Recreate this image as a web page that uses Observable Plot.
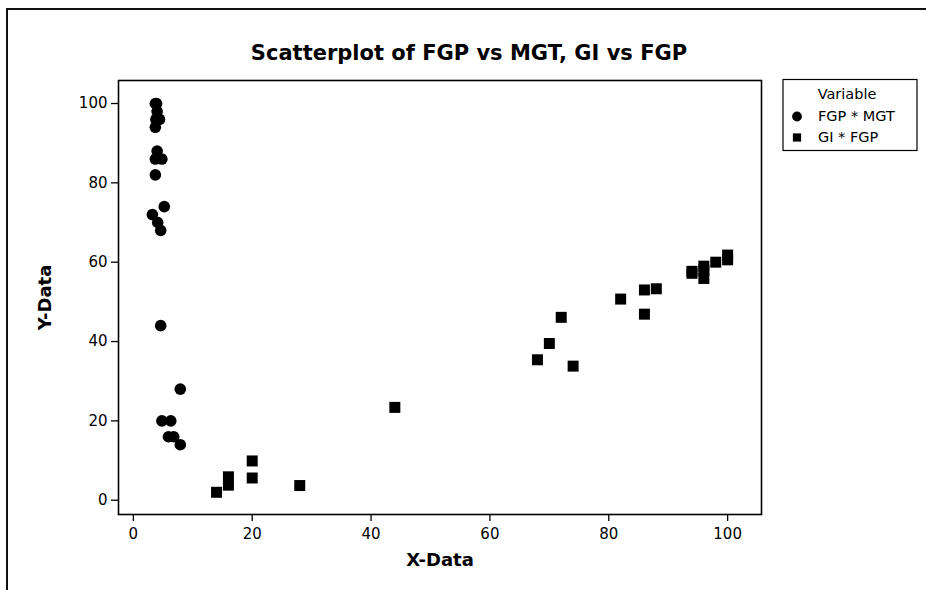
<!DOCTYPE html>
<html><head><meta charset="utf-8">
<script src="https://cdn.jsdelivr.net/npm/d3@7"></script>
<script src="https://cdn.jsdelivr.net/npm/@observablehq/plot@0.6"></script>
<style>
body{margin:0;background:#fff;}
#wrap{position:relative;width:926px;height:590px;overflow:hidden;background:#fff;}
#border{position:absolute;left:6px;top:8px;width:1000px;height:1000px;border-left:2px solid #111;border-top:2px solid #111;}
#chart{position:absolute;left:0;top:0;}
svg{font-family:"DejaVu Sans",Verdana,sans-serif;}
</style></head><body>
<div id="wrap"><div id="border"></div><div id="chart"></div></div>
<script>
// FGP * MGT  (x = MGT, y = FGP)
const mgt  = [3.7, 3.9, 4.0, 4.4, 3.8, 3.7, 4.0, 3.7, 4.8, 3.7, 5.2, 3.2, 4.1, 4.6, 4.6, 7.9, 4.8, 6.3, 5.9, 6.8, 7.9];
const fgpA = [100, 100, 98, 96, 96, 94, 88, 86, 86, 82, 74, 72, 70, 68, 44, 28, 20, 20, 16, 16, 14];
// GI * FGP  (x = FGP, y = GI)
const fgpB = [14, 16, 16, 20, 20, 28, 44, 68, 70, 72, 74, 82, 86, 86, 88, 94, 94, 96, 96, 96, 98, 100, 100];
const gi   = [2.0, 3.8, 5.9, 5.6, 9.9, 3.7, 23.4, 35.4, 39.5, 46.1, 33.8, 50.7, 53.0, 46.9, 53.3, 57.7, 57.2, 59.0, 58.0, 55.9, 60.0, 61.8, 60.6];
const xTicks = [0, 20, 40, 60, 80, 100];
const yTicks = [0, 20, 40, 60, 80, 100];
const seriesNames = ["FGP * MGT", "GI * FGP"];
const title = "Scatterplot of FGP vs MGT, GI vs FGP";

const dataA = mgt.map((x, i) => ({x, y: fgpA[i]}));
const dataB = fgpB.map((x, i) => ({x, y: gi[i]}));

const W = 926, H = 590;
const chart = Plot.plot({
  width: W, height: H,
  marginLeft: 118, marginRight: 165, marginTop: 80, marginBottom: 76,
  style: {fontFamily: '"DejaVu Sans", Verdana, sans-serif', background: "transparent", color: "#000"},
  x: {domain: [-2.5, 105.7]},
  y: {domain: [-3.6, 105.8]},
  marks: [
    Plot.frame({stroke: "#000", strokeWidth: 1.6}),
    Plot.axisX({ticks: xTicks, tickSize: 7, tickPadding: 7, fontSize: 15, label: null, stroke: "#000", strokeWidth: 1.3}),
    Plot.axisY({ticks: yTicks, tickSize: 7, tickPadding: 4, fontSize: 15, label: null, stroke: "#000", strokeWidth: 1.3}),
    Plot.dot(dataA, {x: "x", y: "y", symbol: "circle", r: 5.8, fill: "#000", stroke: "none"}),
    Plot.dot(dataB, {x: "x", y: "y", symbol: "square", r: 6.2, fill: "#000", stroke: "none"}),
    Plot.text([title], {frameAnchor: "top", dx: 29, dy: -35, textAnchor: "middle", fontSize: 21, fontWeight: "bold", fill: "#000"}),
    Plot.text(["X-Data"], {frameAnchor: "bottom", dy: 51, textAnchor: "middle", fontSize: 18, fontWeight: "bold", fill: "#000"}),
    Plot.text(["Y-Data"], {frameAnchor: "left", dx: -73, rotate: -90, textAnchor: "middle", fontSize: 18, fontWeight: "bold", fill: "#000"})
  ]
});
document.getElementById("chart").appendChild(chart);

// Legend
const svg = d3.select(chart);
const lg = svg.append("g").attr("font-family", '"DejaVu Sans", Verdana, sans-serif').attr("font-size", 14.5).attr("text-anchor", "start");
lg.append("rect").attr("x", 783).attr("y", 79.5).attr("width", 134).attr("height", 71).attr("fill", "#fff").attr("stroke", "#000").attr("stroke-width", 1.2);
lg.append("text").attr("x", 847).attr("y", 95).attr("text-anchor", "middle").attr("dominant-baseline", "middle").text("Variable");
const sym = [d3.symbolCircle, d3.symbolSquare];
seriesNames.forEach((name, i) => {
  const cy = 116.5 + i * 21;
  lg.append("path").attr("transform", `translate(797,${cy})`).attr("d", d3.symbol(sym[i], i === 0 ? 75 : 68)()).attr("fill", "#000");
  lg.append("text").attr("x", 818).attr("y", cy).attr("text-anchor", "start").attr("dominant-baseline", "middle").text(name);
});
</script>
</body></html>
